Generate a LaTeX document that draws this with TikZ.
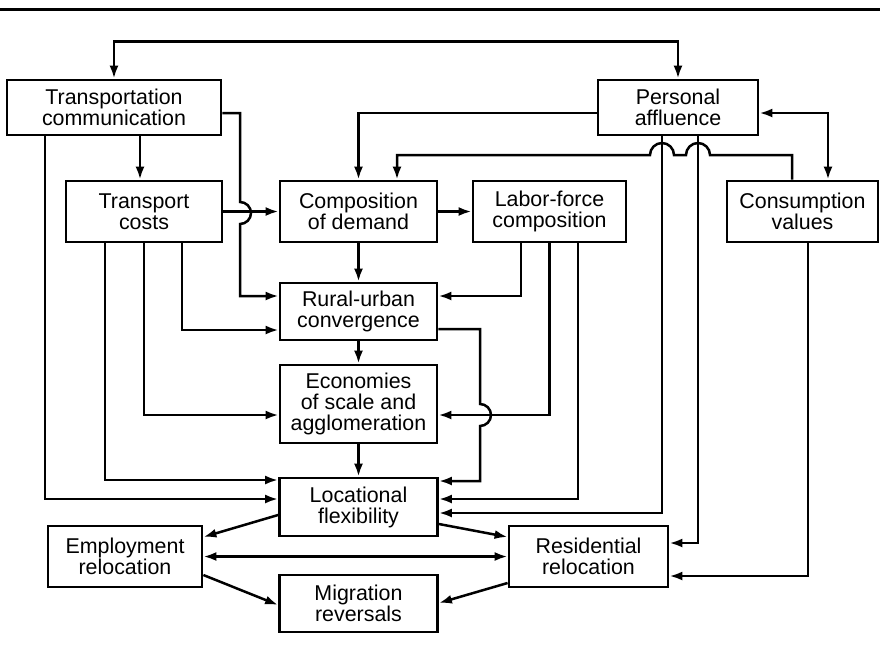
\documentclass[tikz,border=0pt]{standalone}
\usepackage{fontspec}
\setmainfont{Liberation Sans}
\usetikzlibrary{arrows.meta}

\begin{document}
\begin{tikzpicture}[x=0.5pt,y=-0.5pt,
	box/.style={draw,line width=1.4pt,inner sep=0pt,align=center,
		font=\fontsize{10.7}{10.5}\selectfont},
	arr/.style={line width=1.25pt,-{Latex[length=6.5pt,width=4.5pt]}},
	dbl/.style={line width=1.25pt,{Latex[length=6.5pt,width=4.5pt]}-{Latex[length=6.5pt,width=4.5pt]}}]
	\useasboundingbox (0,0) rectangle (880,661);
	\draw[line width=1.5pt] (0,9) -- (880,9);

	\node[box,minimum width=107pt,minimum height=27.5pt] (tc) at (114,107.5) {Transportation\\communication};
	\node[box,minimum width=80pt,minimum height=27.5pt] (pa) at (678,107.5) {Personal\\affluence};
	\node[box,minimum width=78pt,minimum height=30.5pt] (trc) at (144,211.5) {Transport\\costs};
	\node[box,minimum width=78.5pt,minimum height=30.5pt] (cd) at (358.5,211.5) {Composition\\of demand};
	\node[box,minimum width=76.5pt,minimum height=30.5pt] (lf) at (549.5,211.5) {Labor-force\\composition};
	\node[box,minimum width=75.5pt,minimum height=30.5pt] (cv) at (802.5,211.5) {Consumption\\values};
	\node[box,minimum width=78.5pt,minimum height=28.5pt] (ru) at (358.5,311.5) {Rural-urban\\convergence};
	\node[box,minimum width=78.5pt,minimum height=39pt] (ec) at (358.5,404) {Economies\\of scale and\\agglomeration};
	\node[box,minimum width=79pt,minimum height=29pt] (loc) at (358.5,507) {Locational\\flexibility};
	\node[box,minimum width=77pt,minimum height=30.5pt] (emp) at (125,556.5) {Employment\\relocation};
	\node[box,minimum width=79pt,minimum height=28.5pt] (mig) at (358.5,603.5) {Migration\\reversals};
	\node[box,minimum width=79.5pt,minimum height=30.5pt] (res) at (588.5,556.5) {Residential\\relocation};

	\draw[dbl] (tc.north) -- ++(0,-37) -| (pa.north);
	\draw[arr] (tc.south -| 140,0) -- (trc.north -| 140,0);
	\draw[arr] (tc.south -| 45,0) |- (loc.west |- 0,499);
	\draw[arr] (tc.east |- 0,113) -| (240,202) arc[start angle=90,end angle=-90,radius=5.5pt] |- (ru.west |- 0,296);
	\draw[arr] (trc) -- (cd);
	\draw[arr] (trc.south -| 182,0) |- (ru.west |- 0,330);
	\draw[arr] (trc.south) |- (ec.west |- 0,415);
	\draw[arr] (trc.south -| 105,0) |- (loc.west |- 0,480);

	\draw[arr] (cd) -- (ru);
	\draw[arr] (ru) -- (ec);
	\draw[arr] (ec) -- (loc);
	\draw[arr] (cd) -- (lf);

	\draw[arr] (lf.south -| 521,0) |- (ru.east |- 0,296);
	\draw[arr] (lf.south) |- (ec.east |- 0,415);
	\draw[arr] (lf.south -| 578,0) |- (loc.east |- 0,499);
	\draw[arr] (ru.east |- 0,329) -| (480,404) arc[start angle=90,end angle=-90,radius=5.5pt] |- (loc.east |- 0,481);

	% affluence and values feed back into demand
	\draw[arr] (pa.west |- 0,113) -| (cd.north);
	\draw[arr] (cv.north -| 792,0) |- (710,155) arc[start angle=0,end angle=180,radius=6pt]
		-- (674,155) arc[start angle=0,end angle=180,radius=6pt] -| (cd.north -| 397,0);
	\draw[arr] (pa.south -| 662,0) |- (loc.east |- 0,513);
	\draw[arr] (pa.south -| 698,0) |- (res.east |- 0,543);
	\draw[dbl] (pa.east |- 0,113) -| (cv.north -| 828,0);
	\draw[arr] (cv.south -| 808,0) |- (res.east |- 0,576);

	\draw[arr] (loc.west |- 0,515) -- (emp.east |- 0,537);
	\draw[arr] (loc.east |- 0,524) -- (res.west |- 0,537);
	\draw[dbl] (emp) -- (res);
	\draw[arr] (emp.east |- 0,575) -- (mig.west |- 0,605);
	\draw[arr] (res.west |- 0,583) -- (mig.east |- 0,603);
\end{tikzpicture}
\end{document}
